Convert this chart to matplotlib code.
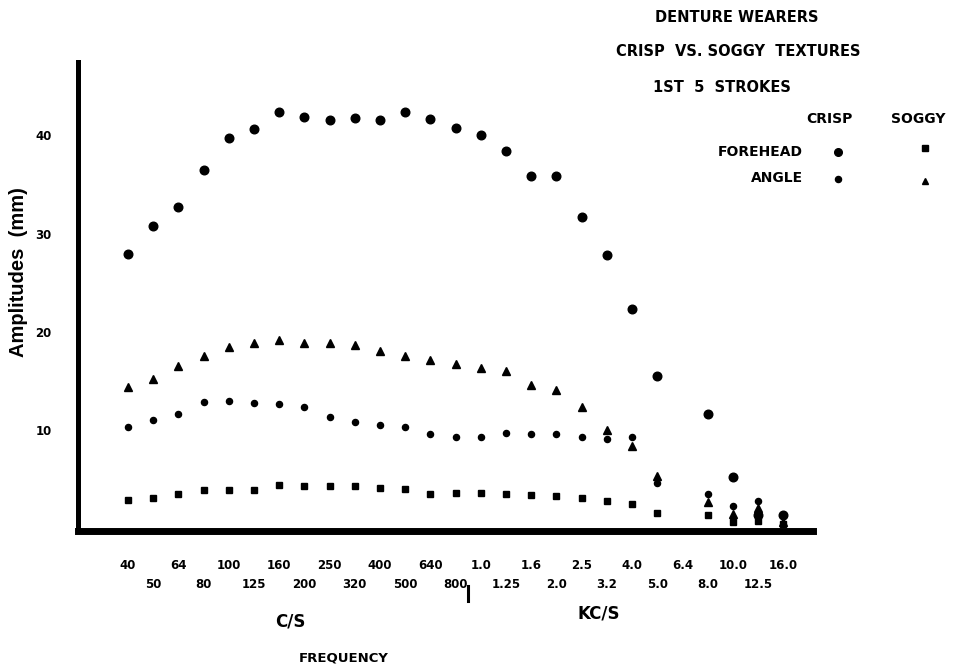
import matplotlib
matplotlib.use("Agg")
import matplotlib.pyplot as plt
import numpy as np

############ INPUT DATA ############################################
freq_labels = ["40", "50", "64", "80", "100", "125", "160", "200", "250", "320",
               "400", "500", "640", "800", "1.0", "1.25", "1.6", "2.0", "2.5", "3.2",
               "4.0", "5.0", "6.4", "8.0", "10.0", "12.5", "16.0"]

# amplitudes (mm), None = no reading at that frequency
crisp_forehead = [27.9, 30.8, 32.7, 36.5, 39.7, 40.7, 42.4, 41.9, 41.6, 41.8,
                  41.6, 42.4, 41.7, 40.8, 40.0, 38.4, 35.9, 35.9, 31.7, 27.8,
                  22.3, 15.5, None, 11.7, 5.2, 1.4, 1.4]
crisp_angle = [10.3, 11.0, 11.7, 12.9, 13.0, 12.8, 12.7, 12.4, 11.4, 10.8,
               10.5, 10.3, 9.6, 9.3, 9.3, 9.7, 9.6, 9.6, 9.3, 9.1,
               9.3, 4.6, None, 3.5, 2.3, 2.8, 1.3]
soggy_forehead = [2.9, 3.1, 3.5, 3.9, 3.9, 3.9, 4.4, 4.3, 4.3, 4.3,
                  4.1, 4.0, 3.5, 3.6, 3.6, 3.5, 3.4, 3.3, 3.1, 2.8,
                  2.5, 1.6, None, 1.4, 0.7, 0.8, 0.5]
soggy_angle = [14.4, 15.2, 16.5, 17.6, 18.5, 18.9, 19.2, 18.9, 18.9, 18.7,
               18.1, 17.6, 17.1, 16.7, 16.3, 16.0, 14.6, 14.1, 12.4, 10.0,
               8.4, 5.3, None, 2.7, 1.5, 2.1, 0.7]

y_ticks = [10, 20, 30, 40]

W, H = 962, 668

def px(x, y):
    # pixel position -> figure fraction
    return x / W, 1 - y / H

# ########## PLOT ###################################################
fig = plt.figure(figsize=(W / 100, H / 100), dpi=100)
ax = fig.add_axes([78 / W, 1 - 531 / H, (813 - 78) / W, (531 - 61.7) / H])

idx = np.arange(len(freq_labels))
def arr(v):
    return np.array([np.nan if a is None else a for a in v], dtype=float)

ax.plot(idx, arr(crisp_forehead), "o", color="black", ms=6.2, ls="none", clip_on=False)
ax.plot(idx, arr(crisp_angle), "o", color="black", ms=4.4, ls="none", clip_on=False)
ax.plot(idx, arr(soggy_angle), "^", color="black", ms=5.2, ls="none", clip_on=False)
ax.plot(idx, arr(soggy_forehead), "s", color="black", ms=3.8, ls="none", clip_on=False)

ax.set_xlim(-1.98, 27.18)
ax.set_ylim(-0.25, 47.5)

for s in ["top", "right"]:
    ax.spines[s].set_visible(False)
ax.spines["left"].set_linewidth(3.6)
ax.spines["bottom"].set_linewidth(5.0)
ax.spines["left"].set_capstyle("projecting")
ax.spines["bottom"].set_capstyle("projecting")

ax.set_yticks(y_ticks)
ax.set_yticklabels([str(t) for t in y_ticks], fontsize=8.5, fontweight="bold")
ax.tick_params(axis="y", length=0, pad=19)

# two staggered rows of frequency labels
ax.set_xticks(idx[0::2])
ax.set_xticklabels(freq_labels[0::2], fontsize=8.5, fontweight="bold")
ax.set_xticks(idx[1::2], minor=True)
ax.set_xticklabels(freq_labels[1::2], minor=True, fontsize=8.5, fontweight="bold")
ax.tick_params(axis="x", which="major", length=0, pad=20)
ax.tick_params(axis="x", which="minor", length=0, pad=34)

fig.text(*px(19, 272), "Amplitudes  (mm)", rotation=90, ha="center", va="center",
         fontsize=14.5, fontweight="bold", family="Liberation Sans")

# titles
fig.text(*px(737, 17), "DENTURE WEARERS", ha="center", va="center", fontsize=10.5, fontweight="bold")
fig.text(*px(738, 52), "CRISP  VS. SOGGY  TEXTURES", ha="center", va="center", fontsize=10.5, fontweight="bold")
fig.text(*px(722, 87), "1ST  5  STROKES", ha="center", va="center", fontsize=10.5, fontweight="bold")

# legend block
fig.text(*px(829, 119), "CRISP", ha="center", va="center", fontsize=10, fontweight="bold")
fig.text(*px(918, 119), "SOGGY", ha="center", va="center", fontsize=10, fontweight="bold")
fig.text(*px(803, 152), "FOREHEAD", ha="right", va="center", fontsize=10, fontweight="bold")
fig.text(*px(803, 178), "ANGLE", ha="right", va="center", fontsize=10, fontweight="bold")
ax.plot(*px(838, 152), "o", color="black", ms=5.5, transform=fig.transFigure, clip_on=False)
ax.plot(*px(838, 179), "o", color="black", ms=4.4, transform=fig.transFigure, clip_on=False)
ax.plot(*px(925, 148), "s", color="black", ms=3.8, transform=fig.transFigure, clip_on=False)
ax.plot(*px(925, 181), "^", color="black", ms=5.0, transform=fig.transFigure, clip_on=False)

# divider mark between C/S and KC/S
bx0, by0 = px(468, 586)
bx1, by1 = px(468, 601)
ax.plot([bx0, bx1], [by0, by1], color="black", lw=2.2, transform=fig.transFigure, clip_on=False)

# frequency unit labels
fig.text(*px(290, 622), "C/S", ha="center", va="center", fontsize=12, fontweight="bold")
fig.text(*px(599, 613), "KC/S", ha="center", va="center", fontsize=12, fontweight="bold")
fig.text(*px(344, 658), "FREQUENCY", ha="center", va="center", fontsize=9.5, fontweight="bold")

fig.savefig("out.png", dpi=100)
